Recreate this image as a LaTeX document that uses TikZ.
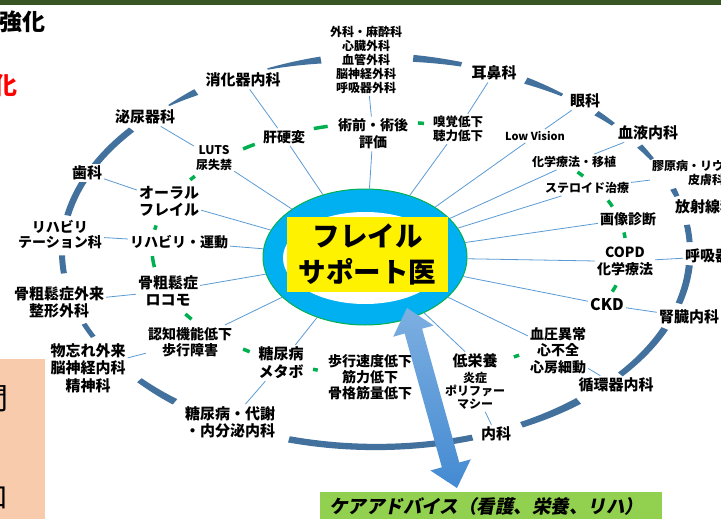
\documentclass[tikz,border=0pt]{standalone}
\usepackage{fontspec}
\newfontfamily\jp{Noto Sans CJK JP}
\newfontfamily\jpsl{Noto Sans CJK JP}[FakeSlant=0.2]
\usetikzlibrary{shapes.geometric}
\definecolor{ringblue}{RGB}{65,113,156}
\definecolor{spokeblue}{RGB}{91,155,213}
\definecolor{hubcyan}{RGB}{0,176,240}
\definecolor{hubgreen}{RGB}{0,176,80}
\definecolor{dashgreen}{RGB}{0,176,80}
\definecolor{cgreen}{RGB}{146,208,80}
\definecolor{topgreen}{RGB}{56,86,35}
\definecolor{peach}{RGB}{248,203,173}
\definecolor{arrowtop}{RGB}{125,175,225}
\definecolor{arrowbot}{RGB}{68,138,210}
\newcommand\rseg[4]{%
 \fill[ringblue] plot[domain=#1:#2,samples=24,variable=\t] ({376+(314+0.5*(#3+(#4-#3)*(\t-#1)/(#2-#1)))*cos(\t)},{252+(195+0.5*(#3+(#4-#3)*(\t-#1)/(#2-#1)))*sin(\t)})
 -- plot[domain=#2:#1,samples=24,variable=\t] ({376+(314-0.5*(#3+(#4-#3)*(\t-#1)/(#2-#1)))*cos(\t)},{252+(195-0.5*(#3+(#4-#3)*(\t-#1)/(#2-#1)))*sin(\t)}) -- cycle;}
\newcommand\gseg[2]{\draw[dashgreen,line width=3.5] plot[domain=#1:#2,samples=8,variable=\t] ({389+237*cos(\t)},{249+127*sin(\t)});}
\begin{document}
\begin{tikzpicture}[x=1pt,y=-1pt,
  lab/.style={align=center,inner sep=2pt,text=black},
  fa/.style={lab,font=\jp\bfseries\fontsize{15}{17}\selectfont},
  fb/.style={lab,font=\jp\bfseries\fontsize{14}{16.5}\selectfont},
  fc/.style={lab,font=\jp\bfseries\fontsize{12}{14}\selectfont},
  spoke/.style={draw=spokeblue,line width=0.8}]
\useasboundingbox (0,0) rectangle (721,519);
\clip (0,0) rectangle (721,519);
\fill[white] (0,0) rectangle (721,519);
\fill[topgreen] (0,0) rectangle (721,5);
% side remnants
\node[anchor=east,inner sep=0,font=\jp\bfseries\fontsize{23}{26}\selectfont] (kyoka) at (46,22) {強化};
\node[inner sep=0,text=red,font=\jp\bfseries\fontsize{24}{26}\selectfont] (redka) at (6,86) {化};
\fill[peach] (0,359) rectangle (45,519);
\node[anchor=east,inner sep=0,font=\jp\fontsize{30}{32}\selectfont] (ma) at (9,399) {間};
\node[anchor=east,inner sep=0,font=\jp\fontsize{28}{30}\selectfont] (kuchi) at (9,498) {口};
% outer ring pieces
\rseg{249.8}{259.9}{1.5}{7}
\rseg{276.8}{285.8}{7}{4.5}
\rseg{298.5}{306.4}{7}{3}
\rseg{314.6}{319.1}{6}{4}
\rseg{327.1}{331.6}{6}{4}
\rseg{341.1}{343.4}{6}{5}
\rseg{352}{357.1}{6}{6}
\rseg{363.9}{375.3}{7}{6.5}
\rseg{23.1}{38.9}{7}{6}
\rseg{49.8}{62.4}{7.5}{6}
\rseg{72.1}{106.1}{6}{6.5}
\rseg{129.8}{138.9}{7}{6}
\rseg{154.2}{158.4}{5}{5}
\rseg{173.7}{179}{6}{6}
\rseg{190.8}{218.9}{6.5}{6.5}
\rseg{228.7}{235.1}{1.5}{7}
% inner green ring dashes
\gseg{232}{235.5}\gseg{251.5}{255}\gseg{277}{278.5}\gseg{213}{215}
\gseg{188.7}{190.7}\gseg{171.8}{176.8}\gseg{146.4}{149.2}\gseg{126}{128}
\gseg{107.5}{108.7}\gseg{56.7}{58.2}\gseg{16.6}{19.6}\gseg{352.5}{355}
\gseg{337.5}{340.5}\gseg{322.7}{325}
% hub
\node[ellipse,fill=hubcyan,draw=hubgreen,line width=1,minimum width=204,minimum height=136,inner sep=0] (hub) at (365,257) {};
\node[ellipse,fill=white,minimum width=164,minimum height=92,inner sep=0] (hubin) at (365,258) {};
\node[fill=yellow,minimum width=161,minimum height=75,inner sep=0,align=center,font=\jp\bfseries\fontsize{27.5}{36.5}\selectfont] (title) at (367.5,254.5) {フレイル\\サポート医};
% outer labels
\node[fa] (shokaki) at (243,80) {消化器内科};
\node[fa] (jibi) at (494,73) {耳鼻科};
\node[fa] (ganka) at (585,101) {眼科};
\node[fa] (ketsueki) at (648,133) {血液内科};
\node[fc] (kogen) at (706,173) {膠原病・リウマチ科\\皮膚科};
\node[fa,anchor=west] (housha) at (673,207) {放射線科};
\node[fa,anchor=west] (kokyu) at (683,256) {呼吸器内科};
\node[fa] (jinzo) at (689,317) {腎臓内科};
\node[fa] (junkan) at (616,385) {循環器内科};
\node[fa] (naika) at (496,434) {内科};
\node[fa] (taisha) at (230,422) {糖尿病・代謝\\・内分泌内科};
\node[lab,font=\jp\bfseries\fontsize{15}{17.5}\selectfont] (monowasure) at (88,368) {物忘れ外来\\脳神経内科\\精神科};
\node[fa] (kotsugai) at (59,302) {骨粗鬆症外来\\整形外科};
\node[lab,font=\jp\bfseries\fontsize{14}{15}\selectfont] (rehaka) at (60,235) {リハビリ\\テーション科};
\node[fa,fill=white] (shika) at (87,173) {歯科};
\node[fa] (hinyo) at (145,117) {泌尿器科};
\node[fc] (geka) at (366,60) {外科・麻酔科\\心臓外科\\血管外科\\脳神経外科\\呼吸器外科};
% inner labels
\node[lab,font=\jp\bfseries\fontsize{14}{17}\selectfont] (jutsuzen) at (373,134) {術前・術後\\評価};
\node[lab,font=\jp\bfseries\fontsize{12.5}{14}\selectfont] (kyukaku) at (458,129) {嗅覚低下\\聴力低下};
\node[fb] (kanko) at (284,137) {肝硬変};
\node[lab,font=\jp\bfseries\fontsize{12}{15}\selectfont] (luts) at (214,158) {LUTS\\尿失禁};
\node[fa] (oral) at (169,201) {オーラル\\フレイル};
\node[fb] (reha) at (179,242) {リハビリ・運動};
\node[fa] (kotsu) at (168,291) {骨粗鬆症\\ロコモ};
\node[lab,font=\jp\bfseries\fontsize{14}{16}\selectfont] (ninchi) at (190,342) {認知機能低下\\歩行障害};
\node[lab,font=\jp\bfseries\fontsize{15}{18}\selectfont] (tonyo) at (281,363) {糖尿病\\メタボ};
\node[lab,font=\jp\bfseries\fontsize{14}{16}\selectfont] (hoko) at (370,377) {歩行速度低下\\筋力低下\\骨格筋量低下};
\node[fa] (teieiyo) at (475,361) {低栄養};
\node[lab,font=\jp\bfseries\fontsize{12}{13}\selectfont] (polyph) at (475,391) {炎症\\ポリファー\\マシー};
\node[lab,font=\jp\bfseries\fontsize{14}{16.5}\selectfont] (ketsuatsu) at (558,350.5) {血圧異常\\心不全\\心房細動};
\node[lab,font=\jp\bfseries\fontsize{16}{18}\selectfont] (ckd) at (607,305) {CKD};
\node[lab,font=\jp\bfseries\fontsize{14}{17}\selectfont] (copd) at (625,261.5) {COPD\\化学療法};
\node[fb] (gazo) at (628,219) {画像診断};
\node[fc] (steroid) at (587,188) {ステロイド治療};
\node[fc] (kagaku) at (574,162) {化学療法・移植};
\node[lab,font=\jp\bfseries\fontsize{11}{13}\selectfont] (lowv) at (535,136) {Low Vision};
% spokes
\draw[spoke] (shokaki) -- (kanko);
\draw[spoke] (kanko) -- (hub);
\draw[spoke] (geka) -- (jutsuzen);
\draw[spoke] (jutsuzen) -- (hub);
\draw[spoke] (jibi) -- (kyukaku);
\draw[spoke] (kyukaku) -- (hub);
\draw[spoke] (ganka) -- (lowv);
\draw[spoke] (lowv) -- (hub);
\draw[spoke] (ketsueki) -- (kagaku);
\draw[spoke] (kagaku) -- (hub);
\draw[spoke] (kogen) -- (steroid);
\draw[spoke] (steroid) -- (hub);
\draw[spoke] (gazo) -- (hub);
\draw[spoke] (kokyu) -- (copd);
\draw[spoke] (copd) -- (hub);
\draw[spoke] (jinzo) -- (ckd);
\draw[spoke] (ckd) -- (hub);
\draw[spoke] (junkan) -- (ketsuatsu);
\draw[spoke] (ketsuatsu) -- (hub);
\draw[spoke] (naika) -- (polyph);
\draw[spoke] (teieiyo) -- (hub);
\draw[spoke] (taisha) -- (tonyo);
\draw[spoke] (tonyo) -- (hub);
\draw[spoke] (monowasure) -- (ninchi);
\draw[spoke] (ninchi) -- (hub);
\draw[spoke] (kotsugai) -- (kotsu);
\draw[spoke] (kotsu) -- (hub);
\draw[spoke] (rehaka) -- (reha);
\draw[spoke] (reha) -- (hub);
\draw[spoke] (shika) -- (oral);
\draw[spoke] (oral) -- (hub);
\draw[spoke] (hinyo) -- (luts);
\draw[spoke] (luts) -- (hub);
% big arrow
\shade[top color=arrowtop,bottom color=arrowbot] (407,308) -- (393.2,336.7) -- (404.7,333.5) -- (441.9,467.3) -- (430.4,470.5) -- (457,488) -- (470.8,459.3) -- (459.3,462.5) -- (422.1,328.7) -- (433.6,325.5) -- cycle;
% care advice bar
\node[anchor=north west,fill=cgreen,minimum width=342,minimum height=27,inner sep=0] (care) at (320,492) {};
\node[anchor=west,inner sep=0,font=\jpsl\bfseries\fontsize{18.5}{20}\selectfont] (caretxt) at (329,506) {ケアアドバイス（看護、栄養、リハ）};
\end{tikzpicture}
\end{document}
